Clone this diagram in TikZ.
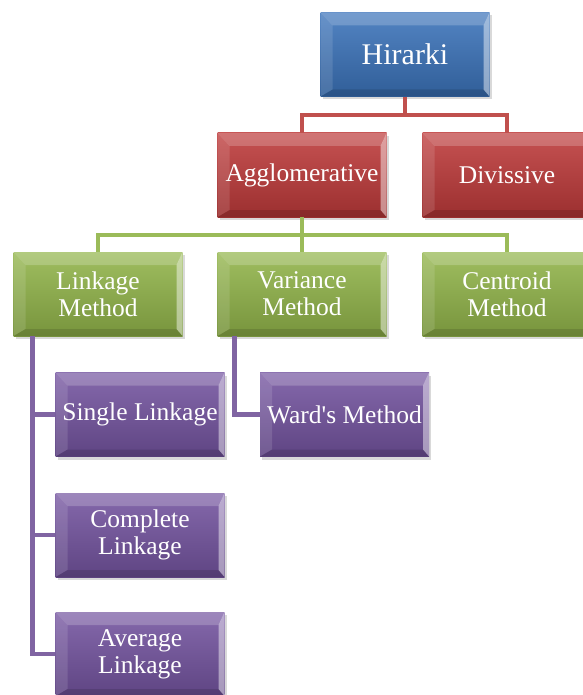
\documentclass[tikz,border=0pt]{standalone}
\usepackage{fontspec}
\setmainfont{Liberation Serif}
\usetikzlibrary{shadows}
\definecolor{cblue}{HTML}{3B73BA}
\definecolor{cred}{HTML}{BE3A3A}
\definecolor{cgreen}{HTML}{92B54A}
\definecolor{cpurple}{HTML}{7454A0}
\definecolor{lred}{HTML}{C0504D}
\definecolor{lgreen}{HTML}{9BBB59}
\definecolor{lpurple}{HTML}{8064A2}
\tikzset{
  bevbox/.style={rectangle, minimum width=169pt, minimum height=84pt, inner sep=0pt,
    text=white, align=center, font=\fontsize{25.5}{27}\selectfont,
    top color=#1!88!white, bottom color=#1!82!black,
    drop shadow={opacity=0.3, shadow xshift=2pt, shadow yshift=-3pt},
    path picture={
      \coordinate (nw) at (path picture bounding box.north west);
      \coordinate (ne) at (path picture bounding box.north east);
      \coordinate (sw) at (path picture bounding box.south west);
      \coordinate (se) at (path picture bounding box.south east);
      \fill[white, opacity=0.2] (nw) -- (ne) -- ([shift={(-6pt,-13pt)}]ne) -- ([shift={(12pt,-13pt)}]nw) -- cycle;
      \fill[white, opacity=0.12] (nw) -- ([shift={(12pt,-13pt)}]nw) -- ([shift={(12pt,7pt)}]sw) -- (sw) -- cycle;
      \fill[white, opacity=0.45] (ne) -- (se) -- ([shift={(-6pt,7pt)}]se) -- ([shift={(-6pt,-13pt)}]ne) -- cycle;
      \fill[black, opacity=0.12] (sw) -- ([shift={(12pt,7pt)}]sw) -- ([shift={(-6pt,7pt)}]se) -- (se) -- cycle;
    }},
  conn/.style={line width=4.5pt, draw=#1}
}
\begin{document}
\begin{tikzpicture}[x=1pt, y=-1pt]
\useasboundingbox (0,0) rectangle (582,695);
% nodes
\node[bevbox=cblue, font=\fontsize{30}{32}\selectfont] (hir) at (405,54.5) {Hirarki};
\node[bevbox=cred] (agg) at (302,175) {Agglomerative};
\node[bevbox=cred] (div) at (507,175) {Divissive};
\node[bevbox=cgreen] (lnk) at (98,294) {Linkage\\Method};
\node[bevbox=cgreen] (var) at (302,294) {Variance\\Method};
\node[bevbox=cgreen] (cen) at (507,294) {Centroid\\Method};
\node[bevbox=cpurple] (sgl) at (140,414.5) {Single Linkage};
\node[bevbox=cpurple] (wrd) at (344.5,414.5) {Ward\textquotesingle s Method};
\node[bevbox=cpurple] (cmp) at (140,535) {Complete\\Linkage};
\node[bevbox=cpurple] (avg) at (140,654) {Average\\Linkage};
% connectors
\draw[conn=lred] (hir.south) -- (hir.south |- 0,115) -| (agg.north);
\draw[conn=lred] (hir.south |- 0,115) -| (div.north);
\draw[conn=lgreen] (agg.south) -- (agg.south |- 0,235) -| (lnk.north);
\draw[conn=lgreen] (agg.south |- 0,235) -| (cen.north);
\draw[conn=lgreen] (agg.south |- 0,235) -- (var.north);
\draw[conn=lpurple] ([xshift=19pt]lnk.south west) |- (sgl.west);
\draw[conn=lpurple] ([xshift=19pt]lnk.south west) |- (cmp.west);
\draw[conn=lpurple] ([xshift=19pt]lnk.south west) |- (avg.west);
\draw[conn=lpurple] ([xshift=17pt]var.south west) |- (wrd.west);
\end{tikzpicture}
\end{document}
